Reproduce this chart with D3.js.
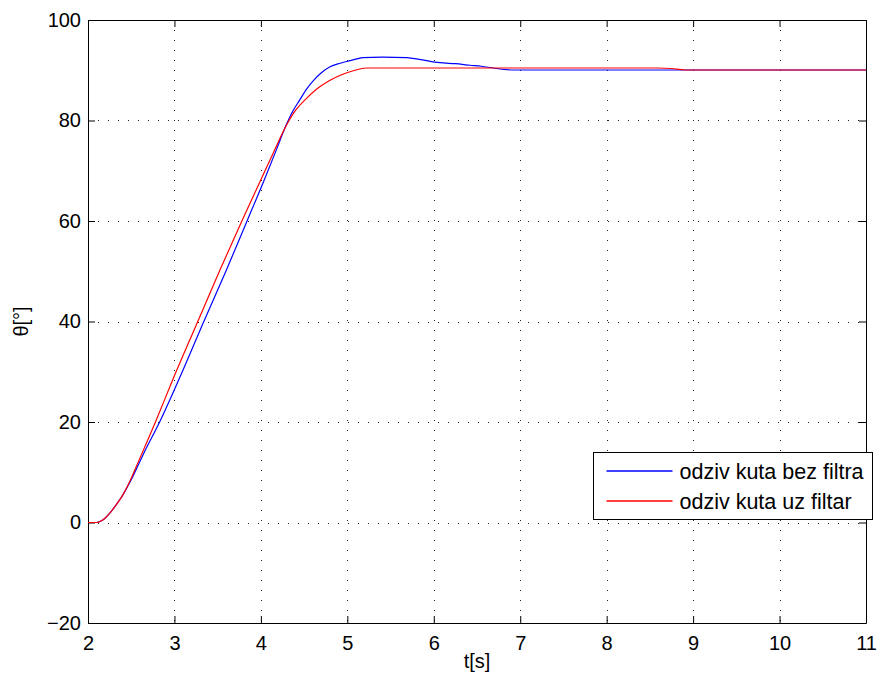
<!DOCTYPE html>
<html><head><meta charset="utf-8">
<script src="https://cdn.jsdelivr.net/npm/d3@7"></script>
<style>body{margin:0;background:#fff}svg{display:block}text{font-family:"Liberation Sans",Arial,Helvetica,sans-serif}</style>
</head><body><div id="chart"></div>
<script>
const seriesNames = ["odziv kuta bez filtra", "odziv kuta uz filtar"];
const seriesColors = ["#0000ff", "#ff0000"];
const tBlue = [2.0, 2.1, 2.15, 2.2, 2.25, 2.3, 2.35, 2.4, 2.45, 2.5, 2.64, 2.84, 3.05, 3.34, 3.6, 3.84, 4.04, 4.18, 4.29, 4.37, 4.45, 4.53, 4.61, 4.7, 4.8, 4.92, 5.03, 5.1, 5.18, 5.4, 5.69, 5.85, 6.07, 6.25, 6.42, 6.55, 6.7, 6.92, 8.0, 11.0];
const vBlue = [0, 0, 0.3, 0.9, 1.8, 2.9, 4.1, 5.4, 6.9, 8.5, 13.6, 20.4, 28.4, 40.0, 50.2, 60.0, 68.2, 74.2, 79.0, 81.9, 84.1, 86.3, 88.0, 89.5, 90.7, 91.4, 91.9, 92.2, 92.5, 92.6, 92.5, 92.1, 91.5, 91.3, 91.0, 90.8, 90.4, 90.05, 90.05, 90.05];
const tRed = [2.0, 2.1, 2.15, 2.2, 2.25, 2.3, 2.35, 2.4, 2.45, 2.5, 2.54, 2.79, 2.98, 3.27, 3.52, 3.78, 4.0, 4.15, 4.3, 4.4, 4.51, 4.65, 4.8, 4.92, 5.03, 5.13, 5.23, 6.5, 8.6, 8.75, 8.9, 11.0];
const vRed = [0, 0, 0.3, 0.9, 1.8, 2.9, 4.1, 5.4, 7.0, 8.8, 10.4, 20.4, 28.4, 40.0, 50.0, 60.0, 68.2, 73.8, 79.2, 82.0, 84.1, 86.3, 88.0, 89.0, 89.7, 90.2, 90.45, 90.45, 90.45, 90.35, 90.05, 90.05];
const xTicks = [2, 3, 4, 5, 6, 7, 8, 9, 10, 11];
const yTicks = [-20, 0, 20, 40, 60, 80, 100];
const xLabel = "t[s]";
const yLabel = "θ[°]";

const W = 893, H = 683;
const m = {left: 88, right: 893 - 866, top: 20, bottom: 683 - 623};
const iw = W - m.left - m.right, ih = H - m.top - m.bottom;
const FS = 20, LFS = 21.5;
const svg = d3.select("#chart").append("svg").attr("width", W).attr("height", H);
const g = svg.append("g").attr("transform", `translate(${m.left},${m.top})`);
const x = d3.scaleLinear().domain([2, 11]).range([0, iw]);
const y = d3.scaleLinear().domain([-20, 100]).range([ih, 0]);

// grid
const grid = g.append("g").attr("stroke", "#222").attr("stroke-width", 1).attr("stroke-dasharray", "1,9");
xTicks.slice(1, -1).forEach(t => grid.append("line").attr("x1", Math.round(x(t)) + 0.5).attr("x2", Math.round(x(t)) + 0.5).attr("y1", 0).attr("y2", ih));
yTicks.slice(1, -1).forEach(t => grid.append("line").attr("y1", Math.round(y(t)) + 0.5).attr("y2", Math.round(y(t)) + 0.5).attr("x1", 0).attr("x2", iw));

// axes (inward ticks, box)
const fmt = d => String(d).replace("-", "\u2212");
const tk = 7;
const axB = g.append("g").attr("transform", `translate(0,${ih})`).call(d3.axisBottom(x).tickValues(xTicks).tickFormat(fmt).tickSizeInner(-tk).tickSizeOuter(0).tickPadding(13));
const axT = g.append("g").call(d3.axisTop(x).tickValues(xTicks).tickFormat("").tickSizeInner(-tk).tickSizeOuter(0));
const axL = g.append("g").call(d3.axisLeft(y).tickValues(yTicks).tickFormat(fmt).tickSizeInner(-tk).tickSizeOuter(0).tickPadding(7));
const axR = g.append("g").attr("transform", `translate(${iw},0)`).call(d3.axisRight(y).tickValues(yTicks).tickFormat("").tickSizeInner(-tk).tickSizeOuter(0));
[axB, axT, axL, axR].forEach(a => {
  a.selectAll("path.domain").attr("stroke", "#000").attr("stroke-width", 1);
  a.selectAll("line").attr("stroke", "#000");
  a.selectAll("text").attr("font-size", FS).attr("fill", "#000");
});
axB.selectAll("text").attr("dy", "0.71em");

// lines
const line = d3.line().x(d => x(d[0])).y(d => y(d[1])).curve(d3.curveMonotoneX);
const series = [d3.zip(tBlue, vBlue), d3.zip(tRed, vRed)];
series.forEach((s, i) => g.append("path").datum(s).attr("fill", "none").attr("stroke", seriesColors[i]).attr("stroke-width", 1.2).attr("d", line));

// labels
svg.append("text").attr("x", m.left + iw / 2).attr("y", 668).attr("text-anchor", "middle").attr("font-size", FS).text(xLabel);
svg.append("text").attr("transform", `translate(28,${m.top + ih / 2}) rotate(-90)`).attr("text-anchor", "middle").attr("font-size", FS).text(yLabel);

// legend
const lg = svg.append("g").attr("transform", "translate(593.5,452.5)");
lg.append("rect").attr("width", 279).attr("height", 67).attr("fill", "#fff").attr("stroke", "#000").attr("stroke-width", 1);
seriesNames.forEach((n, i) => {
  const yy = 19 + i * 30;
  lg.append("line").attr("x1", 13).attr("x2", 79).attr("y1", yy - 0.5).attr("y2", yy - 0.5).attr("stroke", seriesColors[i]).attr("stroke-width", 1.5);
  lg.append("text").attr("x", 86).attr("y", yy).attr("dy", "0.35em").attr("font-size", LFS).attr("fill", "#000").text(n);
});
</script></body></html>
